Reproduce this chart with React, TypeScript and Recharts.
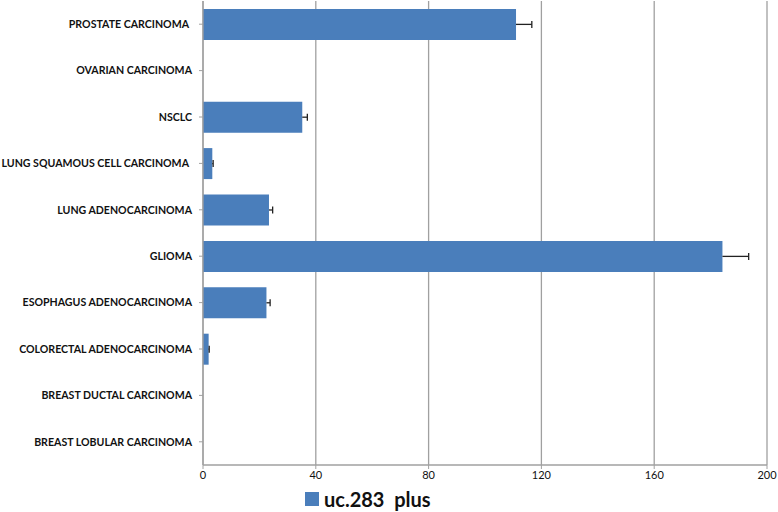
import { BarChart, Bar, XAxis, YAxis, CartesianGrid } from "recharts";

// ─── Data ────────────────────────────────────────────────────────────────────
const categories = [
  "PROSTATE CARCINOMA",
  "OVARIAN CARCINOMA",
  "NSCLC",
  "LUNG SQUAMOUS CELL CARCINOMA",
  "LUNG ADENOCARCINOMA",
  "GLIOMA",
  "ESOPHAGUS ADENOCARCINOMA",
  "COLORECTAL ADENOCARCINOMA",
  "BREAST DUCTAL CARCINOMA",
  "BREAST LOBULAR CARCINOMA",
];
const values = [111, 0, 35.2, 3.3, 23.4, 184.2, 22.5, 2.0, 0, 0];
const errors = [5.6, 0, 1.8, 0.3, 1.3, 9.3, 1.3, 0.2, 0, 0];
const xTicks = [0, 40, 80, 120, 160, 200];
const seriesName = "uc.283  plus";

const data = categories.map((name, i) => ({ name, value: values[i], err: errors[i] }));

const BLUE = "#4A7EBB";
const GRID = "#a0a0a0";

// one-sided (plus) error bar, drawn on a stacked transparent bar
function PlusError(props: any) {
  const { x, y, width, height } = props;
  if (!width || width <= 0) return null;
  const cy = y + height / 2;
  return (
    <g stroke="#222" strokeWidth={1.3}>
      <line x1={x} y1={cy} x2={x + width} y2={cy} />
      <line x1={x + width} y1={cy - 3.5} x2={x + width} y2={cy + 3.5} />
    </g>
  );
}

// single-line category label (no wrapping)
function CatTick(props: any) {
  const { x, y, payload } = props;
  const extra = payload.value === "PROSTATE CARCINOMA" || payload.value === "LUNG SQUAMOUS CELL CARCINOMA" ? 3 : 0;
  return (
    <text x={x - extra} y={y} dy="0.35em" textAnchor="end" fontSize={10.6} fontWeight={700} fill="#111" fontFamily="Lato">
      {payload.value}
    </text>
  );
}

export default function App() {
  return (
    <div style={{ position: "absolute", left: 0, top: 0, width: 778, height: 512, background: "#fff", fontFamily: "Lato, 'Open Sans', sans-serif" }}>
      <BarChart
        width={778} height={512} data={data} layout="vertical"
        margin={{ top: 1, right: 11, left: 0, bottom: 27 }} barCategoryGap="17%"
      >
        <CartesianGrid horizontal={false} vertical stroke={GRID} strokeWidth={1.3} />
        <XAxis
          type="number" domain={[0, 200]} ticks={xTicks} height={20}
          axisLine={{ stroke: GRID, strokeWidth: 1.3 }} tickLine={{ stroke: GRID }} tickSize={4}
          tick={{ fontSize: 11, fill: "#111", fontFamily: "Lato" }}
        />
        <YAxis
          type="category" dataKey="name" width={203}
          axisLine={{ stroke: GRID, strokeWidth: 1.3 }} tickLine={{ stroke: GRID }} tickSize={4} tickMargin={7}
          tick={<CatTick />} interval={0}
        />
        <Bar dataKey="value" stackId="a" fill={BLUE} isAnimationActive={false} />
        <Bar dataKey="err" stackId="a" fill="none" shape={PlusError} isAnimationActive={false} />
      </BarChart>
      <div style={{ position: "absolute", left: 305, top: 489, display: "flex", alignItems: "center", gap: 5 }}>
        <span style={{ width: 14, height: 14, background: BLUE, display: "inline-block" }} />
        <span style={{ fontSize: 20, fontWeight: 700, color: "#111", whiteSpace: "pre", lineHeight: 1 }}>{seriesName}</span>
      </div>
    </div>
  );
}
